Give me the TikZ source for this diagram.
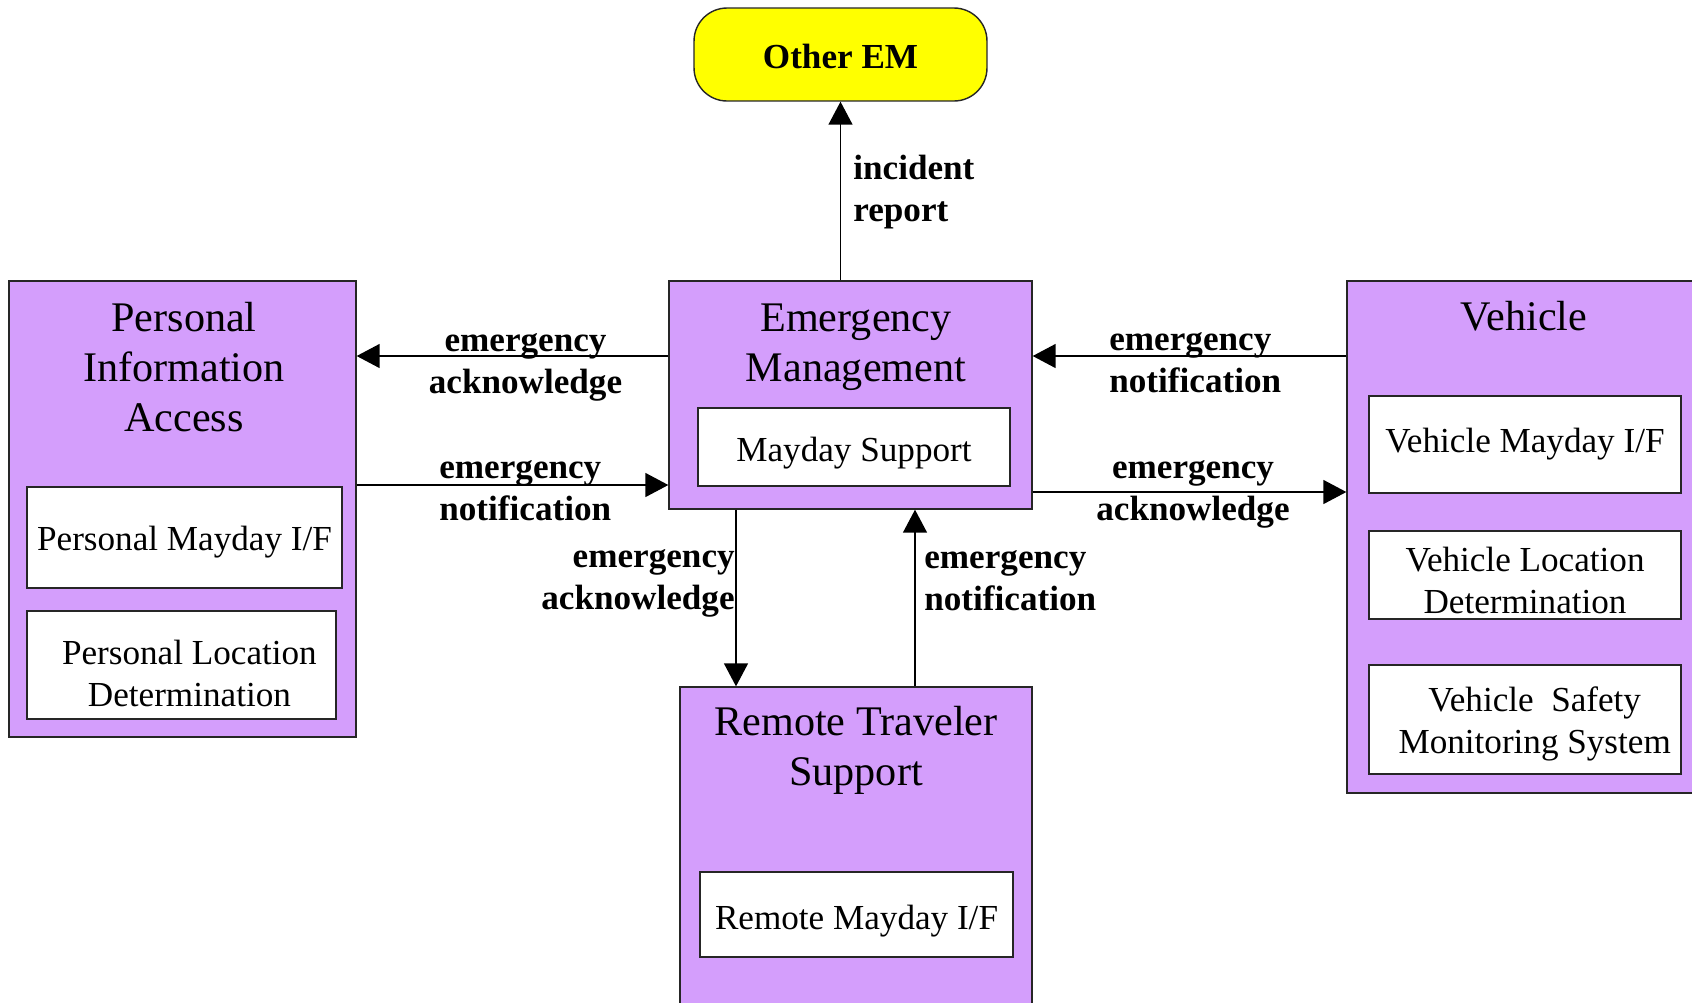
\documentclass[tikz,border=0pt]{standalone}
\usepackage{fontspec}
\setmainfont{Liberation Serif}
\usetikzlibrary{arrows.meta}
\definecolor{lilac}{RGB}{212,158,252}
\definecolor{emyellow}{RGB}{255,255,0}
\tikzset{
	unit/.style={draw=black!85, fill=lilac, line width=0.8pt, inner sep=0pt},
	part/.style={draw=black!85, fill=white, line width=0.8pt, inner sep=0pt, align=center, font=\fontsize{20}{23.9}\selectfont, execute at begin node={\rule{0pt}{#1}}},
	part/.default=20pt,
	heading/.style={inner sep=0pt, align=center, font=\fontsize{24}{28.7}\selectfont},
	flowlabel/.style={inner sep=0pt, font=\bfseries\fontsize{20}{23.8}\selectfont},
	flow/.style={-{Triangle[length=0.46cm, width=0.48cm]}, line width=0.8pt}
}
\begin{document}
\begin{tikzpicture}[x=0.02cm, y=-0.02cm]
			\clip (0,0) rectangle (1692,1002);
			\fill [white] (0,0) rectangle (1692,1002);
			% subsystems
			\node [unit, minimum width=6.94cm, minimum height=9.12cm] (pia) at (182.5,509) {};
			\node [unit, minimum width=7.26cm, minimum height=4.56cm] (em) at (850.5,395) {};
			\node [unit, minimum width=7.3cm, minimum height=10.24cm] (veh) at (1529.5,537) {};
			\node [unit, minimum width=7.04cm, minimum height=6.86cm] (rts) at (856,858.5) {};
			\node [draw=black!85, fill=emyellow, line width=0.8pt, rounded corners=0.66cm, minimum width=5.86cm, minimum height=1.86cm, font=\bfseries\fontsize{20}{24}\selectfont, execute at begin node={\rule{0pt}{16pt}}] (other) at (840.5,54.5) {Other EM};
			\node [heading] (pianame) at (184,367) {Personal\\Information\\Access};
			\node [heading] (emname) at (856,347) {Emergency\\Management};
			\node [heading] (vehname) at (1524,316.5) {Vehicle};
			\node [heading] (rtsname) at (856,750.5) {Remote Traveler\\Support};
			% equipment packages (two-line ones get the strut in the first line)
			\node [part=18.6pt, minimum width=6.3cm, minimum height=2.02cm] (pmay) at (184.5,537.5) {Personal Mayday I/F};
			\node [part=0pt, minimum width=6.18cm, minimum height=2.16cm] (ploc) at (181.5,665) {\rule{0pt}{23.5pt}\hspace*{9pt}Personal Location\\\hspace*{9pt}Determination};
			\node [part=21pt, minimum width=6.24cm, minimum height=1.56cm] (msup) at (854,447) {Mayday Support};
			\node [part=0pt, minimum width=6.24cm, minimum height=1.94cm] (vmay) at (1525,444.5) {Vehicle Mayday I/F};
			\node [part=0pt, minimum width=6.24cm, minimum height=1.76cm] (vloc) at (1525,575) {\rule{0pt}{19.9pt}Vehicle Location\\Determination};
			\node [part=0pt, minimum width=6.24cm, minimum height=2.18cm] (vsafe) at (1525,719.5) {\rule{0pt}{18.6pt}\hspace*{11pt}Vehicle~ Safety\\\hspace*{11pt}Monitoring System};
			\node [part=21pt, minimum width=6.26cm, minimum height=1.7cm] (rmay) at (856.5,914.5) {Remote Mayday I/F};
			% flow levels
			\coordinate (upper) at (0,356);
			\coordinate (lowleft) at (0,485);
			\coordinate (lowright) at (0,492);
			\coordinate (ackx) at (736,0);
			\coordinate (notx) at (915,0);
			\draw [flow] (em.west |- upper) -- (pia.east |- upper);
			\draw [flow] (pia.east |- lowleft) -- (em.west |- lowleft);
			\draw [flow] (veh.west |- upper) -- (em.east |- upper);
			\draw [flow] (em.east |- lowright) -- (veh.west |- lowright);
			\draw [flow] (em.south -| ackx) -- (rts.north -| ackx);
			\draw [flow] (rts.north -| notx) -- (em.south -| notx);
			\draw [flow] (other.south |- em.north) -- (other.south);
			\node [flowlabel, align=center] (ackleft) at (525.5,367) {emergency\\acknowledge};
			\node [flowlabel, align=left, anchor=west] (notleft) at (439,490.5) {emergency\\notification};
			\node [flowlabel, align=left, anchor=west] (notright) at (1109,363) {emergency\\notification};
			\node [flowlabel, align=center] (ackright) at (1193,494.5) {emergency\\acknowledge};
			\node [flowlabel, align=right, anchor=east] (ackdown) at (735,583) {emergency\\acknowledge};
			\node [flowlabel, align=left, anchor=west] (notup) at (924,581) {emergency\\notification};
			\node [flowlabel, align=left, anchor=west] (incident) at (853,192) {incident\\report};
		\end{tikzpicture}
\end{document}
